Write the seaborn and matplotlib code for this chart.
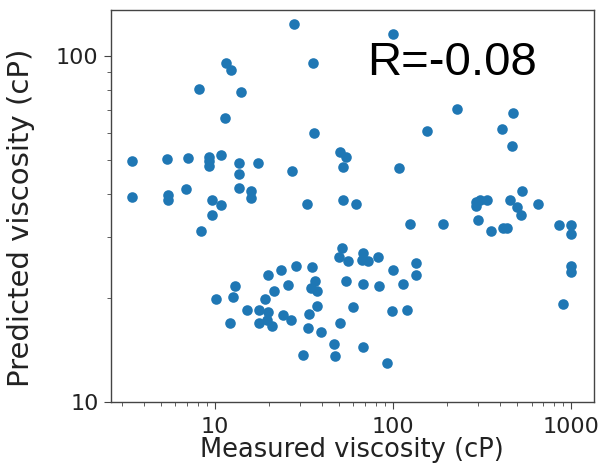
import matplotlib
matplotlib.use("Agg")
import matplotlib.pyplot as plt
import matplotlib.ticker as mticker
import seaborn as sns
import pandas as pd

measured = [
    27.8, 35.4, 11.5, 12.25, 8.13, 14.06, 11.34, 36.0, 100.4, 229, 474, 156, 409, 466, 107.7,
    3.40, 5.35, 7.02, 9.29, 9.25, 9.29, 10.8, 13.7, 13.7, 17.4, 13.7, 15.9, 15.9, 3.40, 5.47,
    5.47, 6.84, 9.58, 10.8, 9.58, 8.31, 27.0, 33.0, 50.4, 54.4, 52.2, 52.2, 62.0, 291, 308,
    336, 291, 528, 454, 495, 524, 650, 299, 355, 413, 435, 860, 996, 996, 125, 192, 996, 996, 898,
    10.1, 12.95, 12.7, 12.1, 15.1, 17.7, 19.9, 19.5, 17.7, 20.8, 19.1, 21.5, 19.9, 23.4, 28.4,
    25.8, 24.0, 26.6, 35.2, 36.5, 34.5, 37.6, 37.3, 33.9, 33.2, 39.4, 31.1, 46.6, 47.2, 51.9,
    49.7, 56.1, 68.1, 67.2, 72.6, 82.7, 100.4, 134, 134, 54.2, 68.1, 83.4, 114, 59.8, 99.1,
    120, 50.4, 68.1, 92.2,
]
predicted = [
    123.5, 95.3, 95.6, 91.5, 80.3, 78.7, 66.3, 59.8, 115.8, 70.3, 68.3, 60.7, 61.6, 55.0, 47.6,
    49.7, 50.4, 50.8, 51.2, 49.7, 48.1, 51.7, 49.0, 45.5, 49.2, 41.6, 40.8, 38.8, 39.2, 39.7,
    38.4, 41.2, 38.5, 37.1, 34.7, 31.2, 46.5, 37.5, 52.9, 51.2, 47.7, 38.5, 37.5, 37.9, 38.4,
    38.4, 36.9, 40.8, 38.4, 36.7, 34.7, 37.5, 33.6, 31.3, 31.9, 31.8, 32.6, 32.6, 30.7, 32.7, 32.7, 24.7, 23.8, 19.2,
    19.9, 21.6, 20.1, 16.9, 18.4, 18.4, 18.2, 17.3, 16.9, 16.6, 19.9, 21.0, 23.3, 24.1, 24.7,
    21.8, 17.8, 17.3, 24.5, 22.4, 21.3, 21.0, 18.9, 18.0, 16.4, 15.9, 13.7, 14.7, 13.6, 27.8,
    26.3, 25.6, 26.9, 25.7, 25.6, 26.3, 24.1, 25.2, 23.3, 22.4, 21.9, 21.7, 21.9, 18.8, 18.3,
    18.5, 16.9, 14.4, 13.0,
]
x_ticks = [10, 100, 1000]
y_ticks = [10, 100]
r_label = "R=-0.08"

df = pd.DataFrame({"Measured": measured, "Predicted": predicted})

sns.set_style("ticks")
plt.rcParams["font.family"] = ["DejaVu Sans"]

fig = plt.figure(figsize=(6.07, 4.68), dpi=100)
ax = fig.add_axes([0.183, 0.141, 0.7956, 0.8376])

sns.scatterplot(data=df, x="Measured", y="Predicted", ax=ax, color="#1f77b4",
                s=58, linewidth=0, legend=False)

ax.set_xscale("log")
ax.set_yscale("log")
ax.set_xlim(2.61, 1346)
ax.set_ylim(10, 136)
ax.set_xticks(x_ticks)
ax.set_yticks(y_ticks)
fmt = mticker.FuncFormatter(lambda v, p: f"{v:g}")
ax.xaxis.set_major_formatter(fmt)
ax.yaxis.set_major_formatter(fmt)
ax.xaxis.set_minor_formatter(mticker.NullFormatter())
ax.yaxis.set_minor_formatter(mticker.NullFormatter())
ax.tick_params(axis="both", which="major", labelsize=16, length=5, color="#444444",
               labelcolor="#222222")
ax.tick_params(axis="x", which="major", pad=6)
ax.tick_params(axis="y", which="major", pad=4)
ax.tick_params(axis="both", which="minor", length=3, color="#444444")

for sp in ax.spines.values():
    sp.set_visible(True)
    sp.set_color("#444444")
    sp.set_linewidth(1.0)

ax.set_xlabel("Measured viscosity (cP)", fontsize=18.5, color="#222222")
ax.xaxis.set_label_coords(0.499, -0.088)
ax.set_ylabel("Predicted viscosity (cP)", fontsize=21, color="#222222")
ax.yaxis.set_label_coords(-0.157, 0.47)

ax.text(0.530, 0.834, r_label, transform=ax.transAxes, ha="left", va="baseline",
        fontsize=34, family=["Liberation Sans", "DejaVu Sans"], color="black")

fig.savefig("out.png", dpi=100)
